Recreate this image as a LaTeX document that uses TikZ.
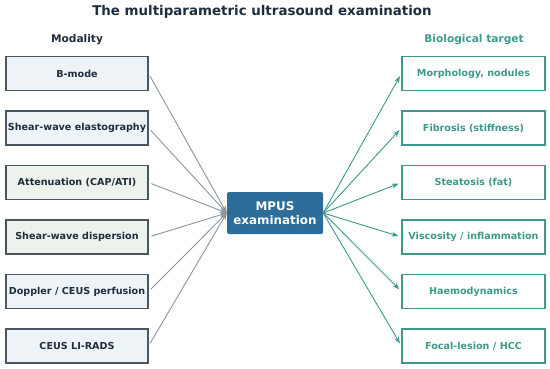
\documentclass[tikz,border=0pt]{standalone}
\usepackage{fontspec}
\setmainfont{DejaVu Sans}
\usetikzlibrary{arrows.meta}
\definecolor{darktext}{HTML}{1F2D3D}
\definecolor{leftborder}{HTML}{4A5560}
\definecolor{fillblue}{HTML}{EEF3F7}
\definecolor{fillgreen}{HTML}{EDF3EC}
\definecolor{teal}{HTML}{3D9A8B}
\definecolor{lineGray}{HTML}{8B95A1}
\definecolor{mpusblue}{HTML}{2C6E99}
\tikzset{
  modbox/.style={draw=leftborder, line width=1.1pt, minimum width=142pt, minimum height=34pt, inner sep=0pt, font=\bfseries\fontsize{9.6}{11}\selectfont, text=darktext},
  tgtbox/.style={draw=teal, fill=white, line width=1.1pt, minimum width=143pt, minimum height=34pt, inner sep=0pt, font=\bfseries\fontsize{9.6}{11}\selectfont, text=teal},
  inline/.style={draw=lineGray, line width=0.9pt, -{Stealth[length=7pt,width=5pt]}, shorten <=3pt},
  outline/.style={draw=teal, line width=0.9pt, -{Stealth[length=7pt,width=5pt]}, shorten >=3pt},
}
\begin{document}
\begin{tikzpicture}[x=1pt,y=-1pt]
\useasboundingbox (0,0) rectangle (550,368);
\node[font=\bfseries\fontsize{13.4}{16}\selectfont, text=darktext] (title) at (262,12) {The multiparametric ultrasound examination};
\node[font=\bfseries\fontsize{10.6}{12}\selectfont, text=darktext] (modh) at (77,40) {Modality};
\node[font=\bfseries\fontsize{10.6}{12}\selectfont, text=teal] (tgth) at (474,40) {Biological target};

\node[modbox, fill=fillblue] (m1) at (77,73.5) {B-mode};
\node[modbox, fill=fillblue] (m2) at (77,128) {Shear-wave elastography};
\node[modbox, fill=fillgreen] (m3) at (77,182.5) {Attenuation (CAP/ATI)};
\node[modbox, fill=fillgreen] (m4) at (77,237) {Shear-wave dispersion};
\node[modbox, fill=fillblue] (m5) at (77,291.5) {Doppler / CEUS perfusion};
\node[modbox, fill=fillblue] (m6) at (77,346) {CEUS LI-RADS};

\node[tgtbox] (t1) at (473.5,73.5) {Morphology, nodules};
\node[tgtbox] (t2) at (473.5,128) {Fibrosis (stiffness)};
\node[tgtbox] (t3) at (473.5,182.5) {Steatosis (fat)};
\node[tgtbox] (t4) at (473.5,237) {Viscosity / inflammation};
\node[tgtbox] (t5) at (473.5,291.5) {Haemodynamics};
\node[tgtbox] (t6) at (473.5,346) {Focal-lesion / HCC};

\node[fill=mpusblue, rounded corners=2pt, minimum width=96pt, minimum height=42pt, inner sep=0pt, align=center, text=white, font=\bfseries\fontsize{11.9}{14}\selectfont] (mpus) at (275,213) {MPUS\\examination};

\foreach \i in {1,...,6} {
  \draw[inline] (m\i.east) -- (mpus.west);
  \draw[outline] (mpus.east) -- (t\i.west);
}
\end{tikzpicture}
\end{document}
